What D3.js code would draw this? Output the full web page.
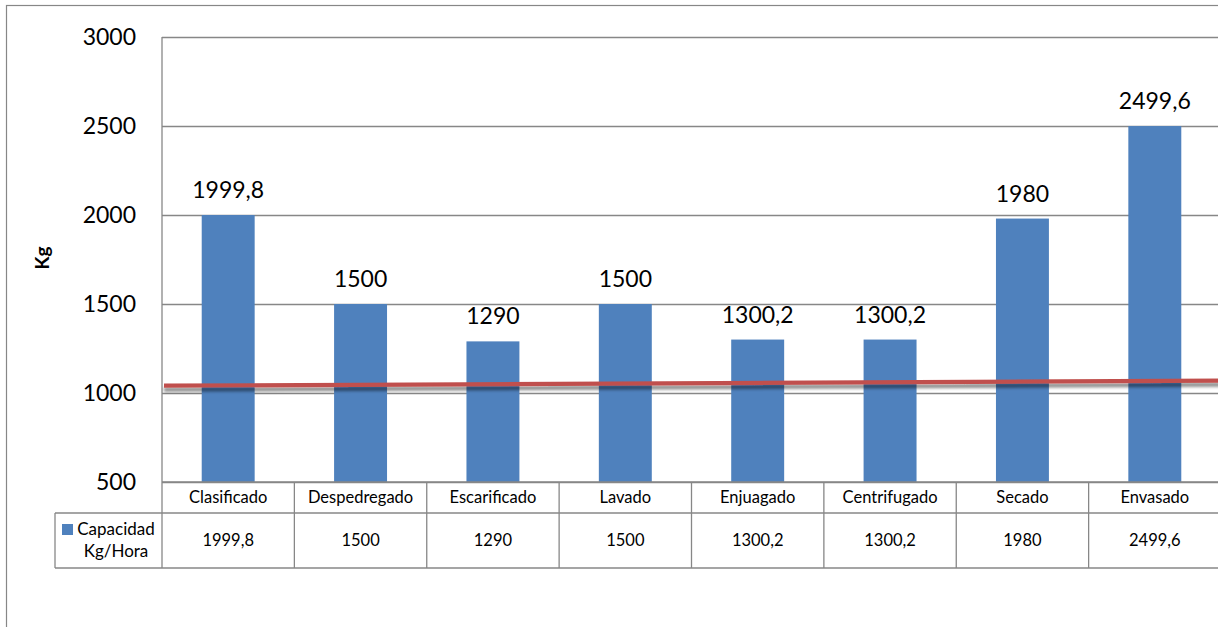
<!DOCTYPE html>
<html>
<head>
<meta charset="utf-8">
<script src="https://cdn.jsdelivr.net/npm/d3@7"></script>
<style>
  html, body { margin: 0; padding: 0; background: #ffffff; }
  svg { display: block; }
  text { font-family: Lato, "Open Sans", sans-serif; fill: #000; }
</style>
</head>
<body>
<svg id="chart" width="1218" height="627"></svg>
<script>
// Processing stages and their hourly capacity
const categories = ["Clasificado", "Despedregado", "Escarificado", "Lavado", "Enjuagado", "Centrifugado", "Secado", "Envasado"];
const capacity = [1999.8, 1500, 1290, 1500, 1300.2, 1300.2, 1980, 2499.6];
const capacityLabels = ["1999,8", "1500", "1290", "1500", "1300,2", "1300,2", "1980", "2499,6"];
const seriesName = ["Capacidad", "Kg/Hora"];
const yTicks = [500, 1000, 1500, 2000, 2500, 3000];
const yTitle = "Kg";
// Reference line: value at the left and right edges of the plot
const refLinePos = [0, 8];
const refLineVal = [1041, 1069];

const svg = d3.select("#chart");
const gridColor = "#878787";
const barColor = "#4F81BD";
const lineColor = "#C0504D";

const plot = { left: 162, right: 1221, top: 37, bottom: 482 };
const table = { left: 55, rowTop: 482, rowMid: 513, rowBottom: 568 };

const y = d3.scaleLinear().domain([500, 3000]).range([plot.bottom, plot.top]);
const xCell = d3.scaleBand().domain(categories).range([plot.left, plot.right]).padding(0);
const xBar = d3.scaleBand().domain(categories).range([plot.left, plot.right])
  .paddingInner(0.6).paddingOuter(0.3);
const xLin = d3.scaleLinear().domain([0, categories.length]).range([plot.left, plot.right]);

// Shadow for the reference line
const defs = svg.append("defs");
const f = defs.append("filter").attr("id", "lineShadow")
  .attr("x", "-5%").attr("y", "-200%").attr("width", "110%").attr("height", "500%");
f.append("feDropShadow").attr("dx", 0).attr("dy", 4).attr("stdDeviation", 1.8)
  .attr("flood-color", "#000").attr("flood-opacity", 0.45);

// Outer chart frame
svg.append("rect").attr("x", 6.5).attr("y", 5.5).attr("width", 1300).attr("height", 700)
  .attr("fill", "none").attr("stroke", gridColor).attr("stroke-width", 1.2);

// Gridlines and y axis
const yAxis = d3.axisLeft(y).tickValues(yTicks).tickSize(-(plot.right - plot.left)).tickPadding(26)
  .tickFormat(d3.format("d"));
const gy = svg.append("g").attr("transform", `translate(${plot.left},0)`).call(yAxis);
gy.select(".domain").remove();
gy.selectAll(".tick line").attr("stroke", gridColor).attr("stroke-width", 1.3);
gy.selectAll(".tick text").attr("font-size", 23).attr("font-family", "Lato").attr("fill", "#000");

// Plot left edge (extends through the table)
svg.append("line").attr("x1", plot.left).attr("x2", plot.left)
  .attr("y1", plot.top).attr("y2", table.rowBottom)
  .attr("stroke", gridColor).attr("stroke-width", 1.3);

// Y axis title
svg.append("text").attr("transform", `translate(49,258) rotate(-90)`)
  .attr("text-anchor", "middle").attr("font-size", 19).attr("font-weight", "bold")
  .text(yTitle);

// Bars
svg.append("g").selectAll("rect").data(categories).join("rect")
  .attr("x", d => xBar(d)).attr("width", xBar.bandwidth())
  .attr("y", (d, i) => y(capacity[i]))
  .attr("height", (d, i) => y(500) - y(capacity[i]))
  .attr("fill", barColor);

// Data labels
svg.append("g").selectAll("text").data(categories).join("text")
  .attr("x", d => xBar(d) + xBar.bandwidth() / 2)
  .attr("y", (d, i) => y(capacity[i]) - 17)
  .attr("text-anchor", "middle").attr("font-size", 23)
  .text((d, i) => capacityLabels[i]);

// Reference line
const lineData = refLinePos.map((p, i) => [p, refLineVal[i]]);
svg.append("path").datum(lineData)
  .attr("d", d3.line().x(d => xLin(d[0]) + (d[0] === 0 ? 2 : 0)).y(d => y(d[1])))
  .attr("fill", "none").attr("stroke", lineColor).attr("stroke-width", 4.2)
  .attr("filter", "url(#lineShadow)");

// Data table
const tg = svg.append("g").attr("stroke", gridColor).attr("stroke-width", 1.3);
tg.append("line").attr("x1", plot.left).attr("x2", plot.right).attr("y1", table.rowTop).attr("y2", table.rowTop);
tg.append("line").attr("x1", table.left).attr("x2", plot.right).attr("y1", table.rowMid).attr("y2", table.rowMid);
tg.append("line").attr("x1", table.left).attr("x2", plot.right).attr("y1", table.rowBottom).attr("y2", table.rowBottom);
tg.append("line").attr("x1", table.left).attr("x2", table.left).attr("y1", table.rowMid).attr("y2", table.rowBottom);
tg.selectAll(".sep").data(categories).join("line").attr("class", "sep")
  .attr("x1", d => xCell(d) + xCell.bandwidth()).attr("x2", d => xCell(d) + xCell.bandwidth())
  .attr("y1", table.rowTop).attr("y2", table.rowBottom);

svg.append("g").selectAll("text").data(categories).join("text")
  .attr("x", d => xCell(d) + xCell.bandwidth() / 2)
  .attr("y", (table.rowTop + table.rowMid) / 2)
  .attr("dy", "0.35em").attr("text-anchor", "middle").attr("font-size", 16.5)
  .text(d => d);

svg.append("g").selectAll("text").data(categories).join("text")
  .attr("x", d => xCell(d) + xCell.bandwidth() / 2)
  .attr("y", (table.rowMid + table.rowBottom) / 2)
  .attr("dy", "0.35em").attr("text-anchor", "middle").attr("font-size", 16.5)
  .text((d, i) => capacityLabels[i]);

// Legend key in the table
svg.append("rect").attr("x", 62).attr("y", 524).attr("width", 11).attr("height", 11).attr("fill", barColor);
svg.append("g").selectAll("text").data(seriesName).join("text")
  .attr("x", 116).attr("y", (d, i) => 535 + i * 22)
  .attr("text-anchor", "middle").attr("font-size", 17)
  .text(d => d);
</script>
</body>
</html>
